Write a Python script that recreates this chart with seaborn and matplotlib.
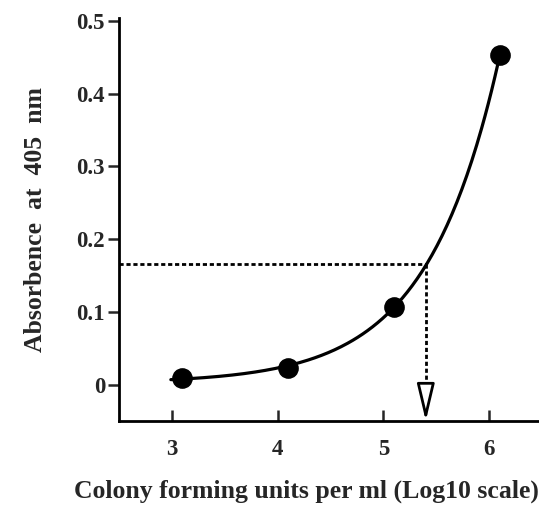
import numpy as np
import pandas as pd
import matplotlib
matplotlib.use("Agg")
import matplotlib.pyplot as plt
import seaborn as sns

# data
log_cfu = [3.1, 4.1, 5.1, 6.1]
absorbance = [0.0096, 0.023, 0.107, 0.453]
x_ticks = [3, 4, 5, 6]
y_ticks = [0, 0.1, 0.2, 0.3, 0.4, 0.5]
y_ticklabels = ["0", "0.1", "0.2", "0.3", "0.4", "0.5"]
sample_abs = 0.166
sample_log = 5.4

sns.set_theme(style="white")
plt.rcParams['font.family'] = ['Liberation Serif', 'DejaVu Serif']
plt.rcParams['font.weight'] = 'bold'

# exponential fit y = a*exp(b x) + c (least squares over c grid)
xa = np.array(log_cfu); ya = np.array(absorbance)
best = None
for c in np.linspace(-0.02, 0.009, 300):
    yy = ya - c
    if np.any(yy <= 0):
        continue
    b, la = np.polyfit(xa, np.log(yy), 1, w=yy)
    pred = np.exp(la + b * xa) + c
    err = np.sum((pred - ya) ** 2)
    if best is None or err < best[0]:
        best = (err, b, la, c)
_, b, la, c = best
xs = np.linspace(2.99, 6.1, 200)
curve = pd.DataFrame({"x": xs, "y": np.exp(la + b * xs) + c})
pts = pd.DataFrame({"x": log_cfu, "y": absorbance})

fig = plt.figure(figsize=(5.39, 5.07), dpi=100)
ax = fig.add_axes([119/539, 86/507, 1 - 119/539, (421-18)/507])

sns.lineplot(data=curve, x="x", y="y", ax=ax, color="black", linewidth=2.3)
sns.scatterplot(data=pts, x="x", y="y", ax=ax, color="black", s=190, edgecolor="black", zorder=5)

# dotted guide lines
ax.plot([2.5, sample_log], [sample_abs, sample_abs], color="black", linestyle=(0, (1.5, 1)), linewidth=2)
ax.plot([sample_log, sample_log], [sample_abs, -0.003], color="black", linestyle=(0, (1.5, 1)), linewidth=2)
ax.annotate("", xy=(sample_log, -0.05), xytext=(sample_log, -0.002),
            arrowprops=dict(arrowstyle="-|>,head_length=1.9,head_width=0.45", facecolor="white",
                            edgecolor="black", linewidth=2, shrinkA=0, shrinkB=0),
            annotation_clip=False)

ax.set_xlim(2.5, 6.47)
ax.set_ylim(-0.05, 0.504)
ax.set_xticks(x_ticks)
ax.set_xticklabels([str(t) for t in x_ticks])
ax.set_yticks(y_ticks)
ax.set_yticklabels(y_ticklabels)
ax.tick_params(axis="x", direction="in", length=8, width=1.8, labelsize=16.5, pad=13, bottom=True)
ax.tick_params(axis="y", direction="out", length=8, width=1.8, labelsize=16.5, pad=2, left=True)
for lab in ax.get_xticklabels() + ax.get_yticklabels():
    lab.set_fontweight("bold")
for s in ["top", "right"]:
    ax.spines[s].set_visible(False)
for s in ["left", "bottom"]:
    ax.spines[s].set_color("black")
    ax.spines[s].set_linewidth(2)

ax.set_xlabel("")
fig.text(306/539, 1 - 491/507, "Colony forming units per ml (Log10 scale)", fontsize=18.5,
         fontweight="bold", ha="center", va="center")
ax.set_ylabel("Absorbence  at  405  nm", fontsize=18.5, fontweight="bold", labelpad=21)

fig.savefig("out.png", dpi=100)
